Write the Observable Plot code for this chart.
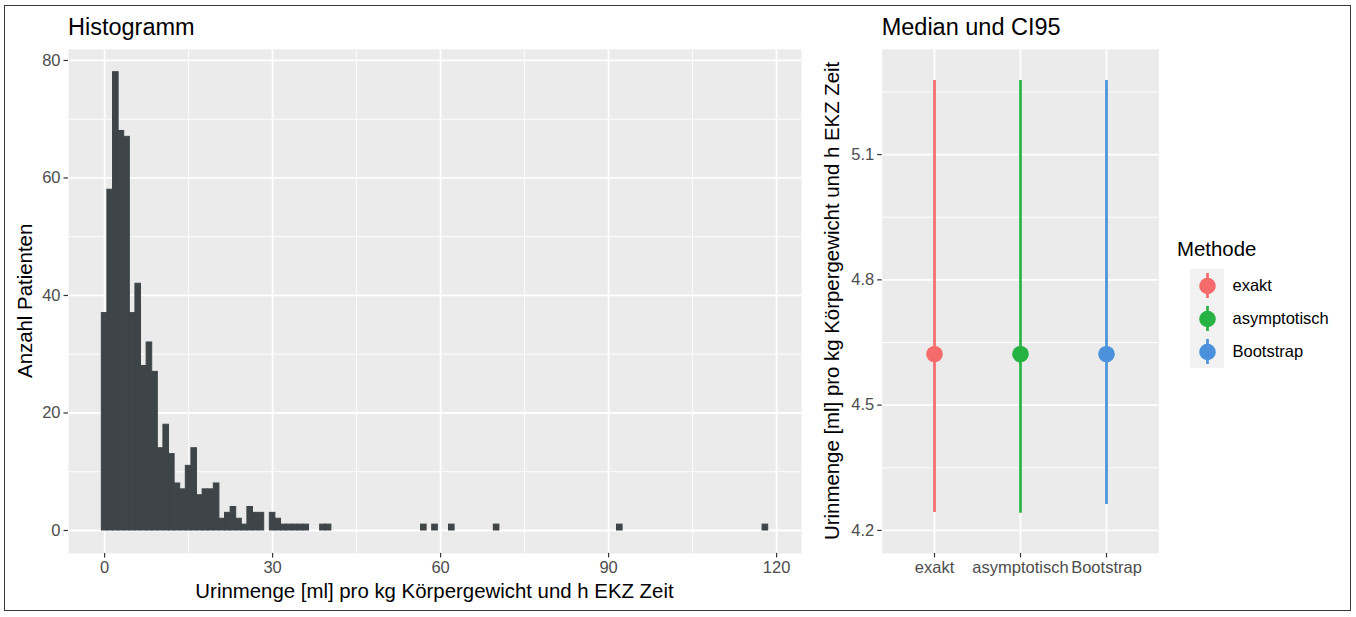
<!DOCTYPE html>
<html><head><meta charset="utf-8">
<script src="https://cdn.jsdelivr.net/npm/d3@7"></script>
<script src="https://cdn.jsdelivr.net/npm/@observablehq/plot@0.6"></script>
<style>
body{margin:0;background:#fff;}
#fig{position:relative;width:1356px;height:617px;overflow:hidden;background:#fff;font-family:"Liberation Sans",Arial,Helvetica,sans-serif;}
#fig > *{position:absolute;}
#border{left:4px;top:5px;width:1347px;height:606px;border:1.5px solid #3a3a3a;box-sizing:border-box;}
</style></head><body><div id="fig"><div id="border"></div></div>
<script>
// ---------- data ----------
const binCenters = [0,1,2,3,4,5,6,7,8,9,10,11,12,13,14,15,16,17,18,19,20,21,22,23,24,25,26,27,28,29,30,31,32,33,34,35,36,37,38,39,40,57,59,62,70,92,118];
const counts     = [37,58,78,68,67,37,42,28,32,27,14,18,13,8,7,11,14,6,7,7,8,2,3,4,2,1,4,3,3,0,3,2,1,1,1,1,1,0,0,1,1,1,1,1,1,1,1];
const histXTicks = [0,30,60,90,120];
const histXMinor = [15,45,75,105];
const histYTicks = [0,20,40,60,80];
const histYMinor = [10,30,50,70];

const methods = ["exakt","asymptotisch","Bootstrap"];
const medians = [4.622,4.622,4.622];
const lowers  = [4.243,4.241,4.262];
const uppers  = [5.277,5.277,5.277];
const methodColors = ["#F66B6B","#27B344","#4B91DB"];
const ciYTicks = [4.2,4.5,4.8,5.1];
const ciYMinor = [4.35,4.65,4.95,5.25];

// ---------- setup ----------
const FONT = '"Liberation Sans", Arial, Helvetica, sans-serif';
const fig = document.getElementById("fig");
const baseStyle = {background:"transparent", fontFamily:FONT, fontSize:"16.5px", overflow:"visible"};
const PANEL = "#EBEBEB", BAR = "#3E4548", TICKTXT = "#4D4D4D", TICK = "#333333";

function place(el, x, y){ el.style.left = x + "px"; el.style.top = y + "px"; fig.appendChild(el); }

// ---------- histogram ----------
const hist = binCenters.map((c,i)=>({x1:c-0.5, x2:c+0.5, count:counts[i]}));
const left = Plot.plot({
  width:820, height:617, marginLeft:68, marginRight:19, marginTop:48.8, marginBottom:64.1,
  style: baseStyle,
  x:{domain:[-6.45,124.45]},
  y:{domain:[-3.9,81.9]},
  marks:[
    Plot.frame({fill:PANEL, stroke:"none"}),
    Plot.gridX({ticks:histXMinor, stroke:"#fff", strokeOpacity:1, strokeWidth:0.9}),
    Plot.gridY({ticks:histYMinor, stroke:"#fff", strokeOpacity:1, strokeWidth:0.9}),
    Plot.gridX({ticks:histXTicks, stroke:"#fff", strokeOpacity:1, strokeWidth:1.8}),
    Plot.gridY({ticks:histYTicks, stroke:"#fff", strokeOpacity:1, strokeWidth:1.8}),
    Plot.rectY(hist, {filter:d=>d.count>0, x1:"x1", x2:"x2", y:"count", fill:BAR, stroke:BAR, strokeWidth:1, inset:0}),
    Plot.axisX({ticks:histXTicks, tickSize:4.5, tickPadding:3.5, stroke:TICK, strokeWidth:1.2, fill:TICKTXT, label:null, fontSize:16.5}),
    Plot.axisY({ticks:histYTicks, tickSize:4.5, tickPadding:3.5, stroke:TICK, strokeWidth:1.2, fill:TICKTXT, label:null, fontSize:16.5})
  ]
});
place(left, 0, 0);

// ---------- median + CI ----------
const ci = methods.map((m,i)=>({method:m, median:medians[i], lower:lowers[i], upper:uppers[i]}));
const right = Plot.plot({
  width:360, height:617, marginLeft:61.7, marginRight:21.7, marginTop:48.8, marginBottom:64.1,
  style: baseStyle,
  x:{type:"point", domain:methods, padding:0.6},
  y:{domain:[4.145,5.352]},
  color:{domain:methods, range:methodColors},
  marks:[
    Plot.frame({fill:PANEL, stroke:"none"}),
    Plot.gridY({ticks:ciYMinor, stroke:"#fff", strokeOpacity:1, strokeWidth:0.9}),
    Plot.gridY({ticks:ciYTicks, stroke:"#fff", strokeOpacity:1, strokeWidth:1.8}),
    Plot.gridX({stroke:"#fff", strokeOpacity:1, strokeWidth:1.8}),
    Plot.ruleX(ci, {x:"method", y1:"lower", y2:"upper", stroke:"method", strokeWidth:2.7}),
    Plot.dot(ci, {x:"method", y:"median", r:8.3, fill:"method", stroke:"none"}),
    Plot.axisX({tickSize:4.5, tickPadding:3.5, stroke:TICK, strokeWidth:1.2, fill:TICKTXT, label:null, fontSize:16.5}),
    Plot.axisY({ticks:ciYTicks, tickFormat:d3.format(".1f"), tickSize:4.5, tickPadding:3.5, stroke:TICK, strokeWidth:1.2, fill:TICKTXT, label:null, fontSize:16.5})
  ]
});
place(right, 820, 0);

// ---------- legend ----------
const legend = Plot.plot({
  width:160, height:99, marginLeft:0, marginRight:126, marginTop:0, marginBottom:0,
  style: baseStyle,
  x:{domain:[0,1], axis:null},
  y:{domain:[0,3], reverse:true, axis:null},
  color:{domain:methods, range:methodColors},
  marks:[
    Plot.rect(methods, {x1:0, x2:1, y1:(d,i)=>i, y2:(d,i)=>i+1, fill:"#F2F2F2"}),
    Plot.ruleX(methods, {x:0.5, y1:(d,i)=>i+0.12, y2:(d,i)=>i+0.88, stroke:d=>d, strokeWidth:2.7}),
    Plot.dot(methods, {x:0.5, y:(d,i)=>i+0.5, r:8.3, fill:d=>d, stroke:"none"}),
    Plot.text(methods, {x:1, y:(d,i)=>i+0.5, text:d=>d, dx:8, textAnchor:"start", fill:"#000", fontSize:16.5})
  ]
});
place(legend, 1190, 268.5);

// ---------- titles & axis titles ----------
const NS = "http://www.w3.org/2000/svg";
const over = document.createElementNS(NS, "svg");
over.setAttribute("width", 1356); over.setAttribute("height", 617);
over.style.pointerEvents = "none";
function txt(s, attrs){
  const t = document.createElementNS(NS, "text");
  t.textContent = s;
  t.setAttribute("font-family", FONT);
  for (const k in attrs) t.setAttribute(k, attrs[k]);
  over.appendChild(t);
}
const axisTitle = "Urinmenge [ml] pro kg Körpergewicht und h EKZ Zeit";
txt("Histogramm", {x:68, y:35, "font-size":23.5, fill:"#000"});
txt("Median und CI95", {x:881.7, y:35, "font-size":23.5, fill:"#000"});
txt(axisTitle, {x:434.5, y:598, "font-size":20.4, fill:"#000", "text-anchor":"middle"});
txt("Anzahl Patienten", {transform:"translate(31.5,300.85) rotate(-90)", "font-size":20.4, fill:"#000", "text-anchor":"middle"});
txt(axisTitle, {transform:"translate(838.5,300.85) rotate(-90)", "font-size":20.4, fill:"#000", "text-anchor":"middle"});
txt("Methode", {x:1177, y:255.5, "font-size":20.4, fill:"#000"});
place(over, 0, 0);
</script></body></html>
